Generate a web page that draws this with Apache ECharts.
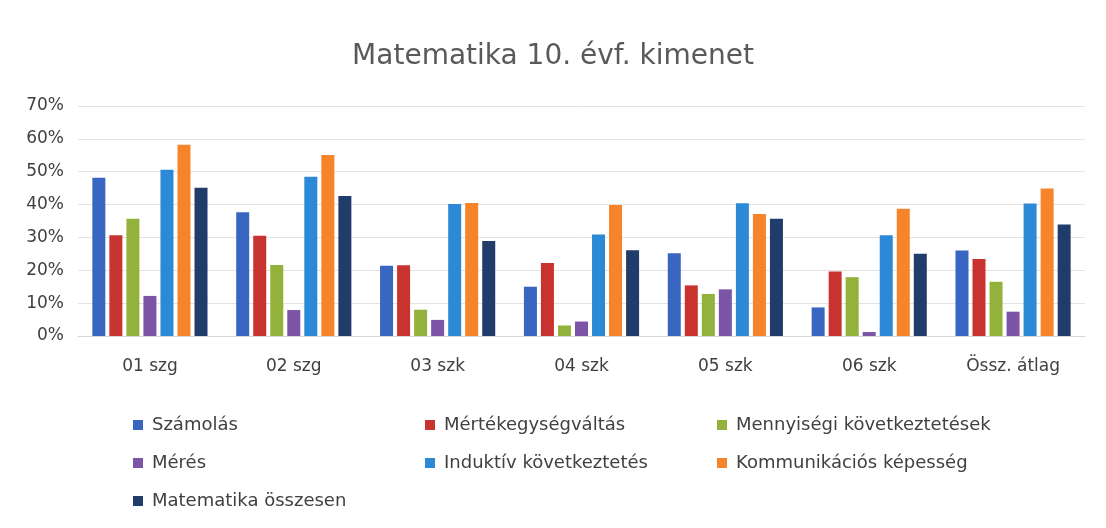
<!DOCTYPE html>
<html lang="hu" style="height: 100%">
<head>
  <meta charset="utf-8">
</head>
<body style="height: 100%; margin: 0; background: #fff">
  <div id="container" style="width: 1106px; height: 528px"></div>

  <script src="https://fastly.jsdelivr.net/npm/echarts@6/dist/echarts.min.js" type="text/javascript"></script>

  <script>
    // adatok (%)
    var categories = ['01 szg', '02 szg', '03 szk', '04 szk', '05 szk', '06 szk', 'Össz. átlag'];
    var seriesNames = ['Számolás', 'Mértékegységváltás', 'Mennyiségi következtetések', 'Mérés',
      'Induktív következtetés', 'Kommunikációs képesség', 'Matematika összesen'];
    var szamolas = [48.2, 37.7, 21.4, 15.0, 25.2, 8.7, 26.0];
    var mertekegyseg = [30.7, 30.5, 21.5, 22.2, 15.4, 19.6, 23.4];
    var mennyisegi = [35.7, 21.6, 8.0, 3.2, 12.8, 17.9, 16.5];
    var meres = [12.2, 7.9, 4.9, 4.4, 14.2, 1.2, 7.4];
    var induktiv = [50.6, 48.5, 40.2, 30.9, 40.4, 30.7, 40.3];
    var kommunikacio = [58.2, 55.1, 40.5, 39.9, 37.1, 38.7, 44.9];
    var osszesen = [45.1, 42.6, 28.9, 26.1, 35.7, 25.0, 33.9];
    var yTicks = [0, 10, 20, 30, 40, 50, 60, 70];

    var colors = ['#3866c0', '#c9332f', '#93b23b', '#7d55a7', '#2b89d5', '#f5842a', '#1f3c6b'];
    var allData = [szamolas, mertekegyseg, mennyisegi, meres, induktiv, kommunikacio, osszesen];
    var font = '"DejaVu Sans", sans-serif';

    var dom = document.getElementById('container');
    var myChart = echarts.init(dom, null, { renderer: 'canvas' });

    var series = seriesNames.map(function (name, i) {
      return {
        name: name,
        type: 'bar',
        data: allData[i],
        barWidth: 13,
        barGap: '31%',
        itemStyle: { color: colors[i] }
      };
    });

    var option = {
      animation: false,
      backgroundColor: '#fff',
      textStyle: { fontFamily: font },
      title: {
        text: 'Matematika 10. évf. kimenet',
        left: 'center',
        top: 38,
        padding: [5, 0, 5, 14],
        textStyle: { fontFamily: font, fontSize: 28, fontWeight: 'normal', color: '#595959' }
      },
      legend: {
        left: 128,
        top: 410,
        width: 900,
        itemWidth: 10,
        itemHeight: 10,
        itemGap: 18,
        icon: 'rect',
        textStyle: {
          fontFamily: font, fontSize: 18, color: '#404040',
          width: 255, lineHeight: 20, padding: [0, 0, 0, 4]
        },
        data: seriesNames
      },
      grid: { left: 78, right: 21, top: 106, bottom: 192, containLabel: false },
      xAxis: {
        type: 'category',
        data: categories,
        axisTick: { show: false },
        axisLine: { lineStyle: { color: '#d9d9d9' } },
        axisLabel: { fontFamily: font, fontSize: 17, color: '#404040', margin: 22 }
      },
      yAxis: {
        type: 'value',
        min: yTicks[0],
        max: yTicks[yTicks.length - 1],
        interval: 10,
        axisLine: { show: false },
        axisTick: { show: false },
        splitLine: { lineStyle: { color: '#e3e3e3' } },
        axisLabel: { fontFamily: font, fontSize: 17, color: '#404040', margin: 14, formatter: '{value}%' }
      },
      series: series
    };

    myChart.setOption(option);
    window.addEventListener('resize', myChart.resize);
  </script>
</body>
</html>
